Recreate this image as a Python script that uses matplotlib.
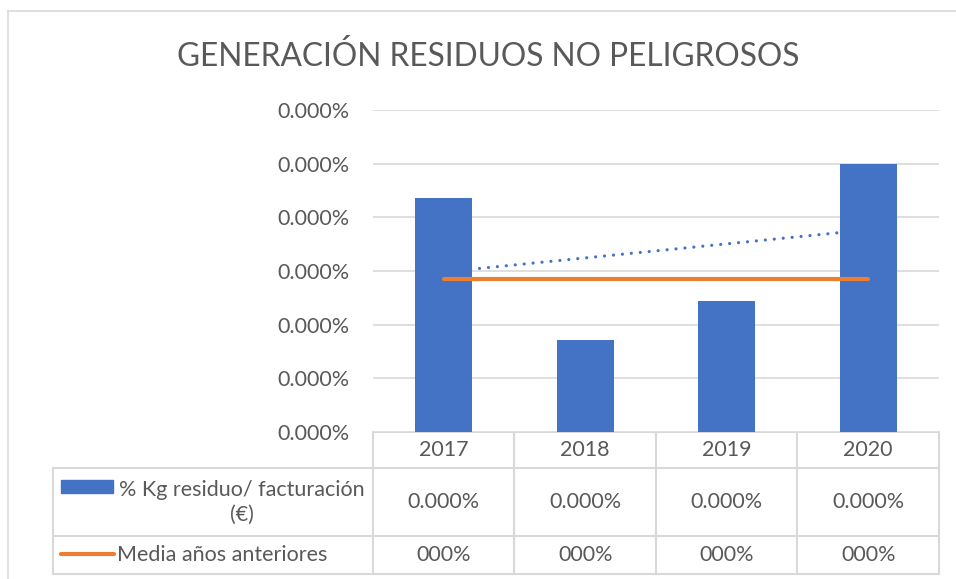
import numpy as np
import matplotlib
matplotlib.use("Agg")
import matplotlib.pyplot as plt
from matplotlib.patches import Rectangle

plt.rcParams['font.family'] = ['Lato', 'DejaVu Sans']

# data
years = ['2017', '2018', '2019', '2020']
kg_residuo = [0.000000436, 0.000000171, 0.000000244, 0.000000499]
media = [0.000000285, 0.000000285, 0.000000285, 0.000000285]
media_labels = ['000%', '000%', '000%', '000%']
yticks = [0, 0.0000001, 0.0000002, 0.0000003, 0.0000004, 0.0000005, 0.0000006]

title = 'GENERACIÓN RESIDUOS NO PELIGROSOS'
serie1 = '% Kg residuo/ facturación\n(€)'
serie2 = 'Media años anteriores'

blue = '#4472C4'
orange = '#ED7D31'
grey = '#595959'
grid = '#D9D9D9'

W, H = 956, 579
fig = plt.figure(figsize=(W / 100, H / 100), dpi=100)

# plot box in pixels
L, R, T, B = 373, 939, 110, 432
ax = fig.add_axes([L / W, 1 - B / H, (R - L) / W, (B - T) / H])

fs = 15.5
x = np.arange(len(years))
ax.set_xlim(-0.5, len(years) - 0.5)
ax.set_ylim(0, yticks[-1])
ax.set_yticks(yticks)
ax.set_yticklabels([f'{v*100:.3f}%' for v in yticks])
ax.set_xticks([])
ax.tick_params(axis='y', length=0, pad=23 * 0.72, labelsize=fs, labelcolor=grey)
ax.grid(axis='y', color=grid, lw=1.2)
ax.set_axisbelow(True)
for s in ax.spines.values():
    s.set_visible(False)

# trend line (linear fit of the bars), behind bars
coef = np.polyfit(x, kg_residuo, 1)
ax.plot(x, np.polyval(coef, x), color=blue, lw=2.3, zorder=1,
        dash_capstyle='round', linestyle=(0, (0.01, 2.8)))

ax.bar(x, kg_residuo, width=0.4, color=blue, zorder=2)
ax.plot(x, media, color=orange, lw=3, solid_capstyle='round', zorder=3)

# overlay in pixel coords for the data table
ov = fig.add_axes([0, 0, 1, 1], zorder=-1)
ov.set_xlim(0, W)
ov.set_ylim(H, 0)
ov.axis('off')

edges = [L + i * (R - L) / len(years) for i in range(len(years) + 1)]
centers = [(edges[i] + edges[i + 1]) / 2 for i in range(len(years))]
rows = [432, 468, 536, 574]
tleft = 53
lc = dict(color=grid, lw=1.5)

ov.plot([L, R], [rows[0], rows[0]], **lc)
for r in rows[1:]:
    ov.plot([tleft, R], [r, r], **lc)
for e in edges:
    ov.plot([e, e], [rows[0], rows[3]], **lc)
ov.plot([tleft, tleft], [rows[1], rows[3]], **lc)

for c, yr, v, m in zip(centers, years, kg_residuo, media_labels):
    ov.text(c, (rows[0] + rows[1]) / 2, yr, ha='center', va='center',
            fontsize=fs, color=grey)
    ov.text(c, (rows[1] + rows[2]) / 2, f'{v*100:.3f}%', ha='center',
            va='center', fontsize=fs, color=grey)
    ov.text(c, (rows[2] + rows[3]) / 2, m, ha='center', va='center',
            fontsize=fs, color=grey)

# legend keys
ov.add_patch(Rectangle((61, 480), 52, 13, color=blue))
ov.text(242, (rows[1] + rows[2]) / 2, serie1, ha='center', va='center',
        fontsize=fs, color=grey, linespacing=1.3)
ov.plot([61, 114], [554, 554], color=orange, lw=3, solid_capstyle='round')
ov.text(117, (rows[2] + rows[3]) / 2, serie2, ha='left', va='center',
        fontsize=fs, color=grey)

# chart border
ov.plot([8, 8], [11, H], color=grid, lw=1.2)
ov.plot([8, W], [11, 11], color=grid, lw=1.2)

ov.text(488, 56, title, ha='center', va='center', fontsize=22.8, color=grey)

fig.savefig('out.png', dpi=100)
